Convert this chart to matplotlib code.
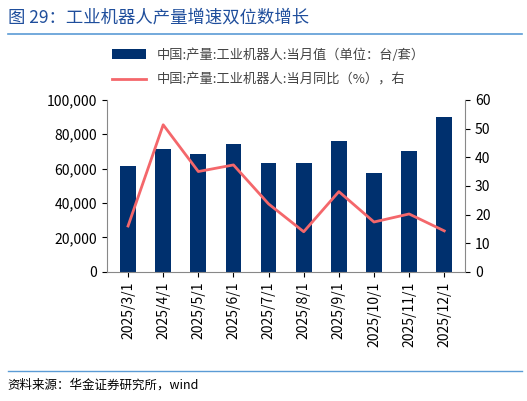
import matplotlib.pyplot as plt
import numpy as np

plt.rcParams['font.family'] = ['Noto Sans CJK SC', 'DejaVu Sans']

months = ["2025/3/1", "2025/4/1", "2025/5/1", "2025/6/1", "2025/7/1",
          "2025/8/1", "2025/9/1", "2025/10/1", "2025/11/1", "2025/12/1"]
output = [61500, 71500, 68500, 74500, 63500, 63500, 76000, 57500, 70000, 90000]
yoy = [16.0, 51.3, 35.0, 37.3, 23.7, 14.0, 28.0, 17.4, 20.2, 14.3]

fig = plt.figure(figsize=(5.27, 4.01), dpi=100)
fig.text(0.015, 0.955, "图 29：工业机器人产量增速双位数增长", color='#1f4e9c', fontsize=12.5, va='center')
fig.add_artist(plt.Line2D([0.015, 0.99], [0.915, 0.915], color='#5b9bd5', lw=1.2))
fig.add_artist(plt.Line2D([0.015, 0.99], [0.075, 0.075], color='#5b9bd5', lw=1.0))
fig.text(0.015, 0.04, "资料来源：华金证券研究所，wind", fontsize=9, style='italic', va='center')

ax = fig.add_axes([0.203, 0.322, 0.68, 0.429])
x = np.arange(len(months))
bars = ax.bar(x, output, width=0.45, color='#00306e', label="中国:产量:工业机器人:当月值（单位：台/套）")
ax.set_ylim(0, 100000)
ax.set_xlim(-0.6, len(months) - 0.4)
ax.set_yticks(range(0, 100001, 20000))
ax.set_yticklabels([f"{v:,}" for v in range(0, 100001, 20000)], fontsize=10)
ax.set_xticks(x)
ax.set_xticklabels(months, rotation=90, fontsize=10)
for s in ['top', 'right']:
    ax.spines[s].set_visible(False)
ax.spines['left'].set_color('#888888')
ax.spines['bottom'].set_color('#888888')

ax2 = ax.twinx()
line, = ax2.plot(x, yoy, color='#f4676b', lw=2, label="中国:产量:工业机器人:当月同比（%），右")
ax2.set_ylim(0, 60)
ax2.set_yticks(range(0, 61, 10))
ax2.tick_params(labelsize=10)
for s in ['top', 'left', 'bottom']:
    ax2.spines[s].set_visible(False)
ax2.spines['right'].set_color('#888888')

fig.legend([bars, line], [bars.get_label(), line.get_label()], loc='upper left',
           bbox_to_anchor=(0.19, 0.91), frameon=False, fontsize=9.5,
           handlelength=2.6, labelspacing=0.9, labelcolor='#444444')

fig.savefig("out.png")
